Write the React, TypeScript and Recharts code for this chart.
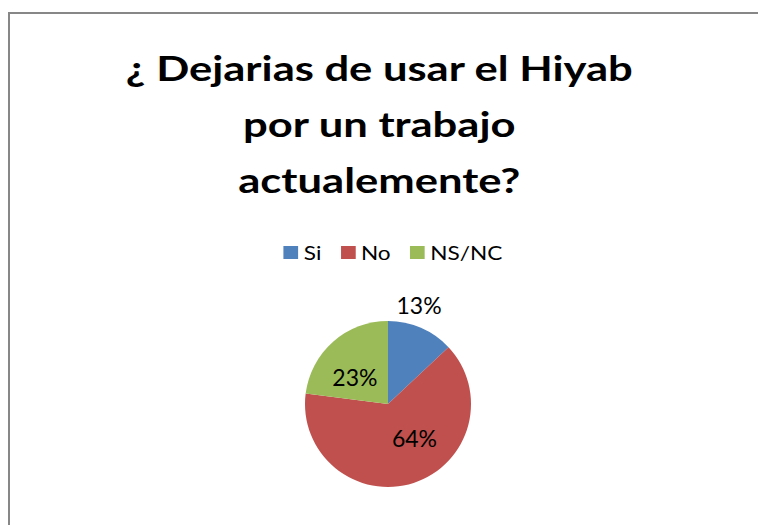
import { PieChart, Pie, Cell } from "recharts";

const categories = ["Si", "No", "NS/NC"];
const values = [13, 64, 23];
const colors = ["#4F81BD", "#C0504D", "#9BBB59"];
const titleLines = ["¿ Dejarias de usar el Hiyab", "por un trabajo", "actualemente?"];

// label placement (polar, relative to slice mid angle) – tuned to the reference look
const labelNudge = [6, 20, 9];
const labelRadius = [104, 43, 43];

const FONT = "Lato, 'Open Sans', sans-serif";

const data = categories.map((name, i) => ({ name, value: values[i] }));
const total = values.reduce((a, b) => a + b, 0);

const RAD = Math.PI / 180;

function renderLabel(props: any) {
  const { cx, cy, midAngle, index, value } = props;
  const a = (midAngle + labelNudge[index]) * RAD;
  const r = labelRadius[index];
  const x = cx + r * Math.cos(a);
  const y = cy - r * Math.sin(a);
  return (
    <text
      x={x}
      y={y}
      textAnchor="middle"
      dominantBaseline="central"
      fill="#000"
      fontSize={23}
      fontFamily={FONT}
    >
      {`${Math.round((value / total) * 100)}%`}
    </text>
  );
}

function LegendRow() {
  return (
    <div
      style={{
        position: "absolute",
        left: 0,
        top: 240,
        width: 786,
        display: "flex",
        justifyContent: "center",
        fontFamily: FONT,
        fontSize: 20,
        lineHeight: "24px",
      }}
    >
      <div style={{ display: "flex", transform: "scaleX(1.13)", transformOrigin: "center" }}>
        {categories.map((c, i) => (
          <div key={c} style={{ display: "flex", alignItems: "center", marginRight: i < categories.length - 1 ? 17 : 0 }}>
            <span style={{ width: 13, height: 13, background: colors[i], marginRight: 5, display: "inline-block" }} />
            <span style={{ color: "#000" }}>{c}</span>
          </div>
        ))}
      </div>
    </div>
  );
}

export default function App() {
  return (
    <div style={{ position: "fixed", left: 0, top: 0, width: 758, height: 525, background: "#fff", overflow: "hidden" }}>
      <div
        style={{
          position: "absolute",
          left: 8,
          top: 12,
          width: 780,
          height: 540,
          border: "2px solid #878787",
          boxSizing: "border-box",
        }}
      />
      <div
        style={{
          position: "absolute",
          left: 0,
          top: 40,
          width: 758,
          textAlign: "center",
          fontFamily: FONT,
          fontWeight: 700,
          fontSize: 34,
          lineHeight: "56px",
          color: "#000",
        }}
      >
        {titleLines.map((t) => (
          <div key={t} style={{ transform: "scaleX(1.28)", transformOrigin: "378px 0" }}>{t}</div>
        ))}
      </div>
      <LegendRow />
      <div style={{ position: "absolute", left: 0, top: 0 }}>
        <PieChart width={758} height={525} margin={{ top: 0, right: 0, bottom: 0, left: 0 }}>
          <Pie
            data={data}
            dataKey="value"
            nameKey="name"
            cx={388}
            cy={404}
            outerRadius={83}
            startAngle={90}
            endAngle={-270}
            stroke="none"
            label={renderLabel}
            labelLine={false}
            isAnimationActive={false}
          >
            {data.map((d, i) => (
              <Cell key={d.name} fill={colors[i]} />
            ))}
          </Pie>
        </PieChart>
      </div>
    </div>
  );
}
